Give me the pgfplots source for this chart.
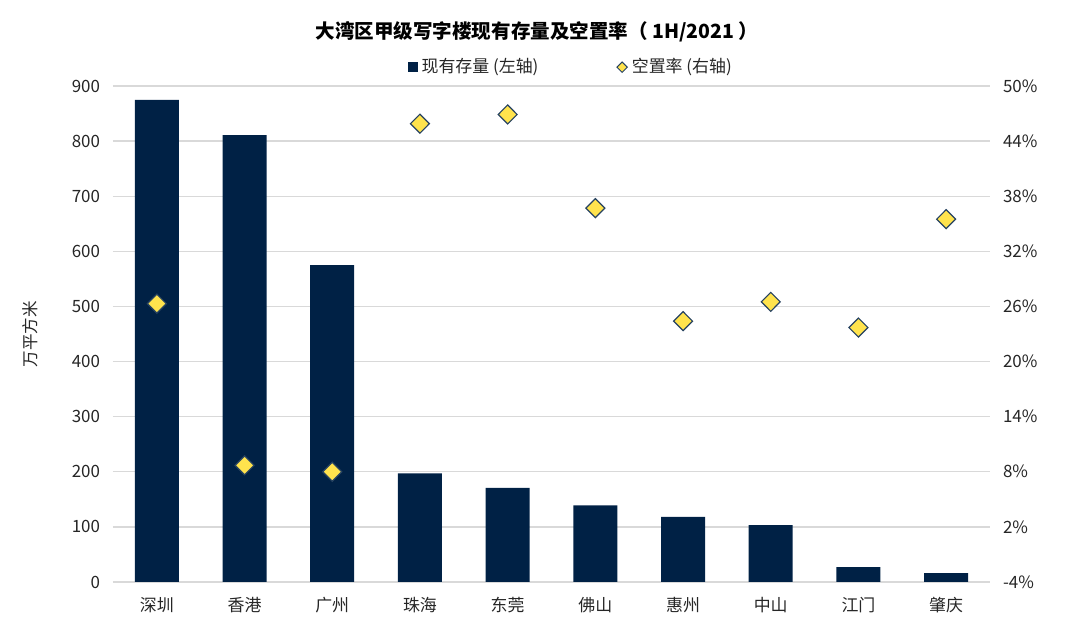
\documentclass[border=0pt]{standalone}
\usepackage{pgfplots}
\pgfplotsset{compat=1.18}
\usepackage{fontspec}
\setmainfont{Noto Sans CJK SC}
\definecolor{navy}{HTML}{002145}
\definecolor{dyel}{HTML}{FFE34D}
\definecolor{gridc}{HTML}{D9D9D9}
\definecolor{txt}{HTML}{262626}
\begin{document}
\begin{tikzpicture}
\useasboundingbox (-56.5bp,-25.5bp) rectangle (483.5bp,291bp);
\begin{axis}[
  at={(0,0)}, anchor=south west,
  scale only axis, width=438.5bp, height=248bp,
  xmin=-0.5, xmax=9.5, ymin=0, ymax=900,
  ytick={0,100,...,900},
  xtick={0,...,9},
  xticklabels={深圳,香港,广州,珠海,东莞,佛山,惠州,中山,江门,肇庆},
  axis line style={draw=none},
  major tick length=0pt,
  ymajorgrids, grid style={gridc, line width=0.7bp},
  tick label style={font=\fontsize{8.5}{10}\selectfont, text=txt},
  /pgf/number format/assume math mode=true,
  yticklabel style={xshift=-3bp},
  xticklabel style={yshift=-4bp},
  ylabel={万平方米},
  ylabel style={at={(axis description cs:-0.0946,0.5)}, anchor=center, font=\fontsize{8.3}{10}\selectfont, text=txt},
  title={大湾区甲级写字楼现有存量及空置率（ 1H/2021 ）},
  title style={at={(axis description cs:0.4835,1.086)}, anchor=center, font=\fontsize{9.8}{11}\selectfont\bfseries, text=black},
]
\addplot[ybar, bar width=22bp, fill=navy, draw=none] coordinates {
  (0,875) (1,811) (2,575) (3,197) (4,171) (5,139) (6,118) (7,103) (8,27) (9,16)
};
\end{axis}
\begin{axis}[
  at={(0,0)}, anchor=south west,
  scale only axis, width=438.5bp, height=248bp,
  xmin=-0.5, xmax=9.5, ymin=-4, ymax=50,
  ytick={-4,2,...,50},
  yticklabels={-4\%,2\%,8\%,14\%,20\%,26\%,32\%,38\%,44\%,50\%},
  axis y line*=right, axis x line=none,
  axis line style={draw=none},
  major tick length=0pt,
  tick label style={font=\fontsize{8.5}{10}\selectfont, text=txt},
  yticklabel style={xshift=3bp},
  legend style={at={(axis description cs:0.523,1.038)}, anchor=center, draw=none, fill=none,
    font=\fontsize{8.5}{10}\selectfont, text=txt,
    /tikz/every even column/.append style={column sep=37bp}},
  legend columns=2,
]
\addlegendimage{legend image code/.code={\fill[navy] (0bp,-2.3bp) rectangle (4.6bp,2.3bp);}}
\addlegendentry{现有存量 (左轴)}
\addplot[only marks, mark=diamond*, mark size=4.75bp,
  mark options={fill=dyel, draw=navy!85, line width=0.6bp, xscale=1.33},
  legend image code/.code={\draw[fill=dyel, draw=navy!85, line width=0.5bp] (0bp,0bp) -- (2.6bp,2.6bp) -- (5.2bp,0bp) -- (2.6bp,-2.6bp) -- cycle;}]
coordinates {
  (0,26.3) (1,8.7) (2,8.0) (3,45.9) (4,46.9) (5,36.7) (6,24.4) (7,26.5) (8,23.7) (9,35.5)
};
\addlegendentry{空置率 (右轴)}
\end{axis}
\end{tikzpicture}
\end{document}
